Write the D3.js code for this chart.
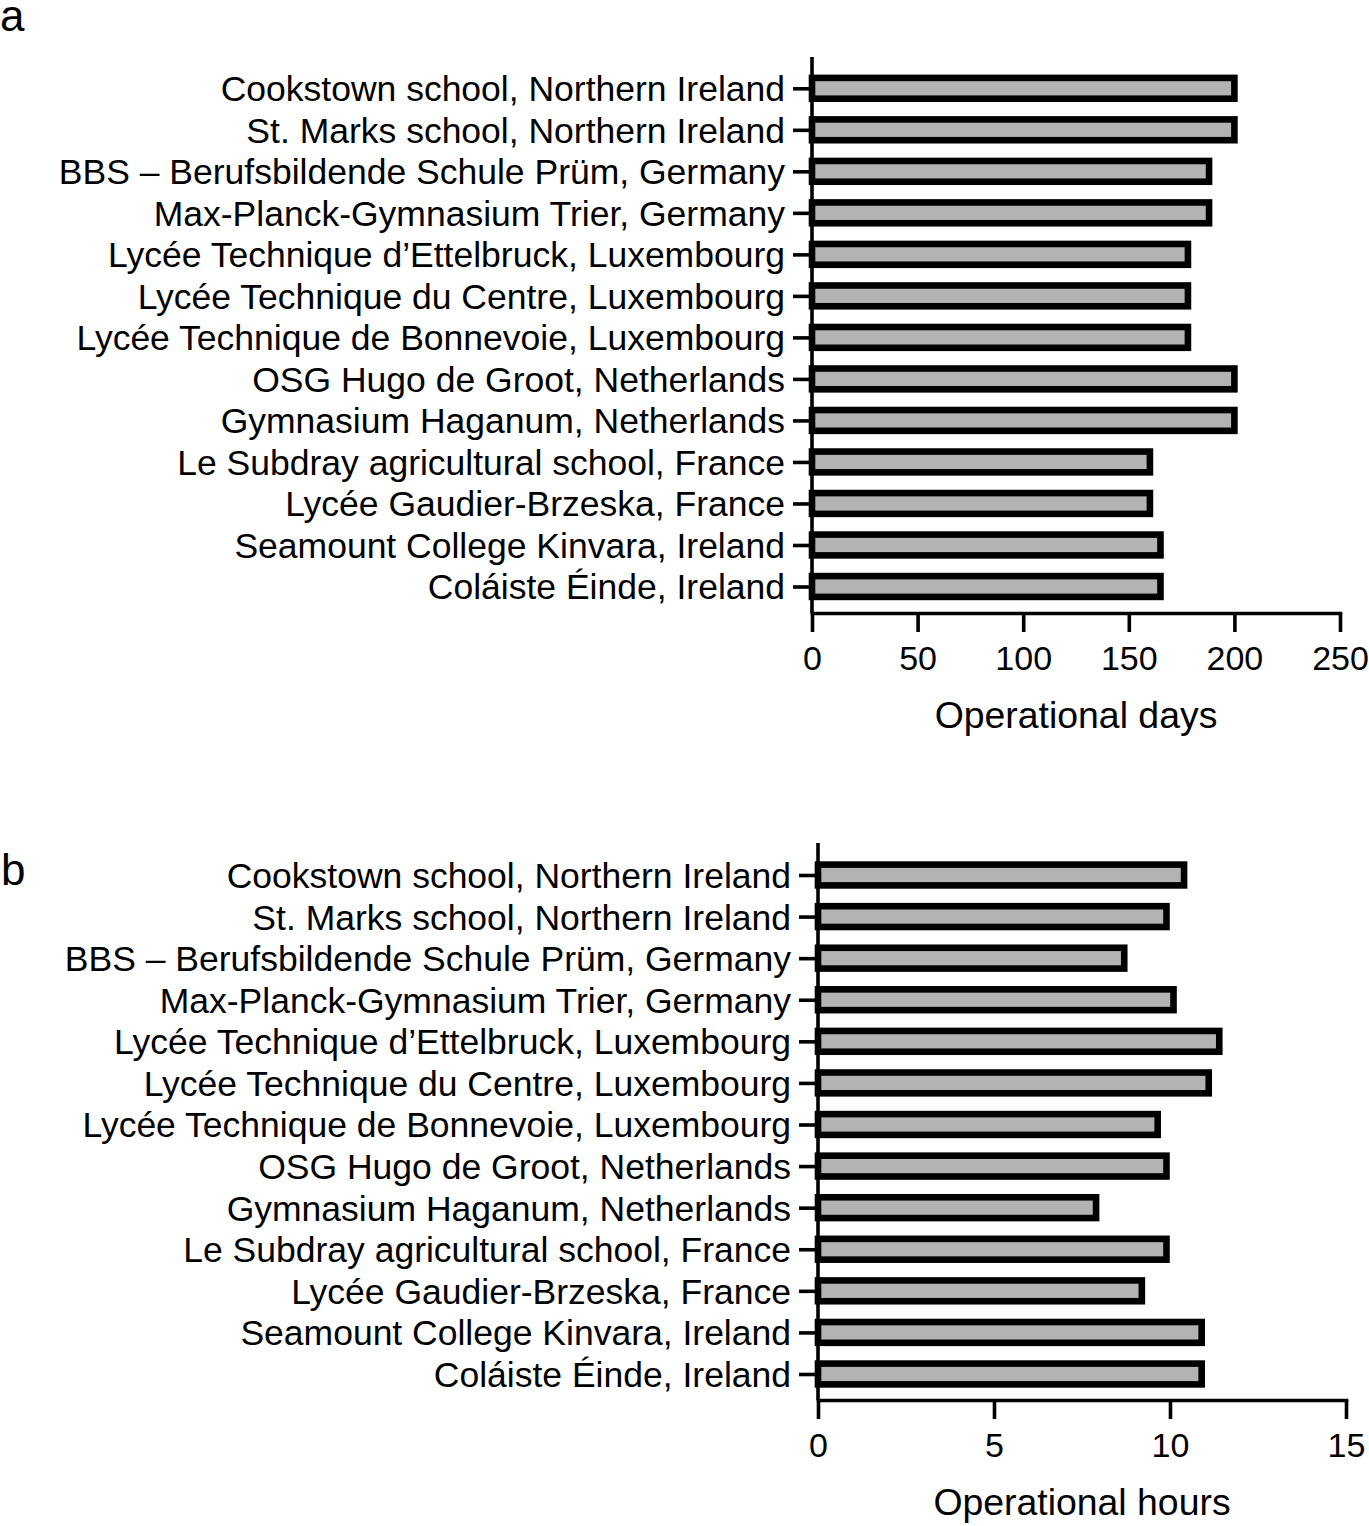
<!DOCTYPE html>
<html>
<head>
<meta charset="utf-8">
<script src="https://cdn.jsdelivr.net/npm/d3@7"></script>
<style>
  body { margin: 0; background: #fff; }
  text { font-family: "Liberation Sans", Arial, Helvetica, sans-serif; fill: #000; }
</style>
</head>
<body>
<script>
// Schools (same order in both panels)
const schools = [
	"Cookstown school, Northern Ireland",
	"St. Marks school, Northern Ireland",
	"BBS – Berufsbildende Schule Prüm, Germany",
	"Max-Planck-Gymnasium Trier, Germany",
	"Lycée Technique d’Ettelbruck, Luxembourg",
	"Lycée Technique du Centre, Luxembourg",
	"Lycée Technique de Bonnevoie, Luxembourg",
	"OSG Hugo de Groot, Netherlands",
	"Gymnasium Haganum, Netherlands",
	"Le Subdray agricultural school, France",
	"Lycée Gaudier-Brzeska, France",
	"Seamount College Kinvara, Ireland",
	"Coláiste Éinde, Ireland",
];

// Panel a: operational days
const days = [200, 200, 188, 188, 178, 178, 178, 200, 200, 160, 160, 165, 165];
const dayTicks = [0, 50, 100, 150, 200, 250];

// Panel b: operational hours
const hours = [10.4, 9.9, 8.7, 10.1, 11.4, 11.1, 9.65, 9.9, 7.9, 9.9, 9.2, 10.9, 10.9];
const hourTicks = [0, 5, 10, 15];

const w = 1369;
const h = 1526;

const svg = d3.select("body").append("svg").attr("width", w).attr("height", h);

const axisW = 3.6;
const barStroke = 6.6;
const barH = 20.8;

function drawPanel(opt) {
	const g = svg.append("g");

	const x = d3
		.scaleLinear()
		.domain([0, opt.ticks[opt.ticks.length - 1]])
		.range([opt.x0, opt.x1]);

	const y = d3.scalePoint().domain(schools).range([opt.yFirst, opt.yLast]);

	// bars
	g.selectAll("rect.bar")
		.data(opt.values)
		.enter()
		.append("rect")
		.attr("class", "bar")
		.attr("x", x(0))
		.attr("y", (d, i) => y(schools[i]) - barH / 2)
		.attr("width", (d) => x(d) - x(0))
		.attr("height", barH)
		.attr("fill", "#b3b3b3")
		.attr("stroke", "#000")
		.attr("stroke-width", barStroke);

	// y axis (own line, then ticks + labels)
	g.append("line")
		.attr("x1", x(0))
		.attr("x2", x(0))
		.attr("y1", opt.yTop)
		.attr("y2", opt.xAxisY)
		.attr("stroke", "#000")
		.attr("stroke-width", axisW);

	const yAxis = g
		.append("g")
		.attr("transform", `translate(${x(0)},0)`)
		.call(d3.axisLeft(y).tickSize(19).tickPadding(8));
	yAxis.select(".domain").remove();
	yAxis.selectAll("line").attr("stroke-width", axisW);
	yAxis
		.selectAll("text")
		.style("font-size", "35.5px")
		.attr("dy", "0.35em");

	// x axis
	const xAxis = g
		.append("g")
		.attr("transform", `translate(0,${opt.xAxisY})`)
		.call(
			d3.axisBottom(x).tickValues(opt.ticks).tickSize(19).tickSizeOuter(0).tickPadding(14),
		);
	xAxis.select(".domain").attr("stroke-width", axisW).attr("stroke-linecap", "square");
	xAxis.selectAll("line").attr("stroke-width", axisW);
	xAxis
		.selectAll("text")
		.style("font-size", "34px")
		.attr("dy", "0.71em");

	// axis title
	g.append("text")
		.attr("x", (opt.x0 + opt.x1) / 2)
		.attr("y", opt.xAxisY + 115)
		.attr("text-anchor", "middle")
		.style("font-size", "37.4px")
		.text(opt.title);

	// panel letter
	g.append("text")
		.attr("x", opt.letterX)
		.attr("y", opt.letterY)
		.style("font-size", "44px")
		.text(opt.letter);
}

drawPanel({
	values: days,
	ticks: dayTicks,
	x0: 812,
	x1: 1340,
	yTop: 57,
	yFirst: 88.3,
	yLast: 586.5,
	xAxisY: 613,
	title: "Operational days",
	letter: "a",
	letterX: 0,
	letterY: 31,
});

drawPanel({
	values: hours,
	ticks: hourTicks,
	x0: 818,
	x1: 1346,
	yTop: 843,
	yFirst: 875,
	yLast: 1374,
	xAxisY: 1400,
	title: "Operational hours",
	letter: "b",
	letterX: 1,
	letterY: 885,
});
</script>
</body>
</html>
